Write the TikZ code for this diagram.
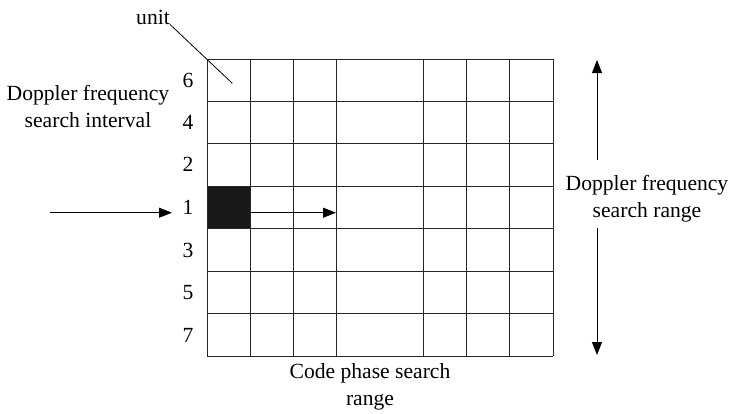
\documentclass[tikz,border=0pt]{standalone}
\usepackage{fontspec}
\setmainfont{Liberation Serif}
\usetikzlibrary{arrows.meta}
\begin{document}
\begin{tikzpicture}[x=1pt,y=-1pt,
  gridline/.style={line width=0.9pt, draw=black!85},
  lbl/.style={font=\fontsize{21.6}{27}\selectfont, inner sep=0pt, align=center},
  tip/.style={-{Triangle[length=13pt,width=10pt]}, line width=0.9pt},
  thin/.style={line width=0.8pt}]
\useasboundingbox (0,0) rectangle (733,413);

% the highlighted search cell
\node (cell) [fill=black!90, minimum width=43pt, minimum height=42.4pt,
  inner sep=0pt, anchor=north west] at (207,186.3) {};

% search grid: columns of code phase, rows of Doppler bins
\foreach \x in {207,250,293,336.5,423,466,509.5,553}
  \draw[gridline] (\x,59) -- (\x,356);
\foreach \y in {59,101.4,143.9,186.3,228.7,271.1,313.6,356}
  \draw[gridline] (207,\y) -- (553,\y);

% Doppler bin order
\node[lbl] (r6) at (188,80)  {6};
\node[lbl] (r4) at (188,122) {4};
\node[lbl] (r2) at (188,164.5) {2};
\node[lbl] (r1) at (188,207.5) {1};
\node[lbl] (r3) at (188,250) {3};
\node[lbl] (r5) at (188,292.5) {5};
\node[lbl] (r7) at (188,335) {7};

% labels
\node[lbl] (unit) at (153,17) {unit};
\node[lbl] (interval) at (88,106) {Doppler frequency\\search interval};
\node[lbl] (range) at (647,199) {Doppler frequency\\search range};
\node[lbl] (code) at (370,387) {Code phase search\\range};

% unit pointer
\coordinate (uend) at (232.3,83.3);
\draw[thin] (unit.south east) -- (uend);

% entry arrow and code phase sweep
\coordinate (src) at (50,212.7);
\coordinate (inA) at (172,212.7);
\coordinate (sweep) at (336,212.7);
\draw[tip] (src) -- (inA);
\draw[tip] (cell.east |- src) -- (sweep);

% Doppler range arrows
\coordinate (upA) at (597,160);
\coordinate (upB) at (597,60);
\coordinate (dnA) at (597,228);
\coordinate (dnB) at (597,355);
\draw[tip] (upA) -- (upB);
\draw[tip] (dnA) -- (dnB);
\end{tikzpicture}
\end{document}
